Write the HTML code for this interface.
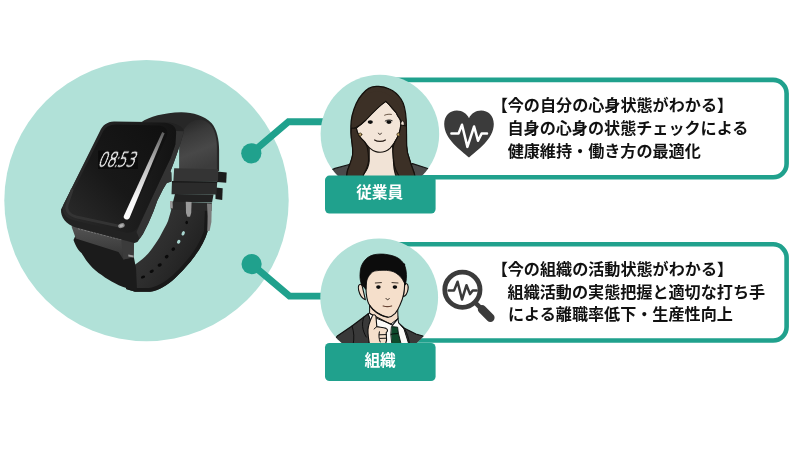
<!DOCTYPE html>
<html lang="ja">
<head>
<meta charset="utf-8">
<title>ウェアラブルデバイスでわかること</title>
<style>
  html, body { margin: 0; padding: 0; background: #ffffff; }
  body { width: 800px; height: 450px; overflow: hidden; position: relative;
         font-family: "Liberation Sans", "Noto Sans CJK JP", sans-serif; }
  #stage { position: absolute; left: 0; top: 0; width: 800px; height: 450px; }
  svg.art { position: absolute; left: 0; top: 0; }
  .txt { position: absolute; white-space: nowrap; color: #111111; font-weight: 700;
         font-size: 16.1px; line-height: 23px; height: 23px; letter-spacing: 0; }
  .lbl { position: absolute; color: #ffffff; font-weight: 700; font-size: 15.7px;
         line-height: 38px; height: 38px; text-align: center; white-space: nowrap; }
  .clock { position: absolute; color: #f2f2f2; font-family: "DejaVu Sans Light", "DejaVu Sans", "Liberation Sans", sans-serif;
           font-weight: 200; font-size: 20px; line-height: 20px; height: 20px; white-space: nowrap;
           transform-origin: 0 16.9px; transform: skewX(-21deg) scaleX(0.70); letter-spacing: -0.2px; -webkit-text-stroke: 0.55px #ffffff; will-change: transform; }
  .clock .c { display: inline-block; width: 2.4px; text-indent: -2.2px; }
</style>
</head>
<body>
<div id="stage">

<!-- ============ BACK LAYER: circle, connectors, bubbles ============ -->
<svg class="art" width="800" height="450" viewBox="0 0 800 450">
  <!-- big pale circle -->
  <ellipse cx="146.5" cy="200.6" rx="142.2" ry="140.7" fill="#b1e1d8"/>

  <!-- connectors -->
  <g fill="none" stroke="#20a18d" stroke-width="6.9" stroke-linejoin="miter">
    <polyline points="251.3,153.3 288.5,121.7 330,121.7"/>
    <polyline points="251.6,264.1 289.5,296.1 330,296.1"/>
  </g>
  <circle cx="251.3" cy="153.3" r="10.1" fill="#20a18d"/>
  <circle cx="251.6" cy="264.1" r="10.1" fill="#20a18d"/>

  <!-- speech boxes -->
  <rect x="372.3" y="79.9" width="414.3" height="97.4" rx="13.5" ry="13.5" fill="#ffffff" stroke="#20a18d" stroke-width="4.6"/>
  <rect x="372.3" y="244.3" width="414.3" height="96.2" rx="13.5" ry="13.5" fill="#ffffff" stroke="#20a18d" stroke-width="4.6"/>

  <!-- avatar discs -->
  <circle cx="379.9" cy="134.1" r="59.3" fill="#b1e1d8"/>
  <circle cx="379.2" cy="297.5" r="58.9" fill="#b1e1d8"/>
</svg>

<!-- ============ WATCH ============ -->
<svg class="art" id="watch" width="800" height="450" viewBox="0 0 800 450">
  <defs>
    <linearGradient id="gInner" x1="0.2" y1="0" x2="0.5" y2="1">
      <stop offset="0" stop-color="#262626"/>
      <stop offset="0.3" stop-color="#3a3a3a"/>
      <stop offset="0.65" stop-color="#484848"/>
      <stop offset="1" stop-color="#3c3c3c"/>
    </linearGradient>
    <linearGradient id="gStrapLow" x1="0" y1="0" x2="1" y2="0.6">
      <stop offset="0" stop-color="#3c3c3c"/>
      <stop offset="0.55" stop-color="#2d2d2d"/>
      <stop offset="1" stop-color="#1d1d1d"/>
    </linearGradient>
    <linearGradient id="gGlass" x1="1" y1="0" x2="0" y2="1">
      <stop offset="0" stop-color="#101010"/>
      <stop offset="0.55" stop-color="#181818"/>
      <stop offset="1" stop-color="#2c2c2c"/>
    </linearGradient>
    <linearGradient id="gBezel" x1="0" y1="0" x2="1" y2="0">
      <stop offset="0" stop-color="#2a2a2a"/>
      <stop offset="0.5" stop-color="#202020"/>
      <stop offset="1" stop-color="#131313"/>
    </linearGradient>
    <linearGradient id="gShine" x1="0" y1="0" x2="0" y2="1">
      <stop offset="0" stop-color="#5c5c5c"/>
      <stop offset="0.35" stop-color="#b8b8b8"/>
      <stop offset="0.75" stop-color="#f6f6f6"/>
      <stop offset="1" stop-color="#ffffff"/>
    </linearGradient>
    <linearGradient id="gLug" x1="0" y1="0" x2="0" y2="1">
      <stop offset="0" stop-color="#555555"/>
      <stop offset="1" stop-color="#333333"/>
    </linearGradient>
  </defs>

  <!-- upper strap: outer silhouette -->
  <path d="M141 122.5 C149 116.5 164 112.9 181 112.3 C193 112.2 204 115.6 211.7 123.3 C217 129.5 219.1 140 219.1 150 L219.1 171 L179.3 171 L179.3 140 L174 128 L168 124 Z" fill="#272727"/>
  <!-- inner surface of the loop -->
  <path d="M180 142 C181 131 188 120.2 199 119.8 C210 119.8 216.9 130 216.9 148 L216.9 170 L179.8 170 Z" fill="url(#gInner)"/>

  <!-- lower strap with holes (buckle end, sweeping down-left) -->
  <path d="M171.5 209 L208.5 209 L207.5 231.7 C205 240 200.5 248 196.7 253.3 C192 260 187.5 266 175 278.3 C171 282 167 285 163.3 286.7 C159 289.5 154 291.3 150 291.7 L135 291.7 L126 289 L131 267 C137 263.5 141.5 260 145 256.7 C149 253 151.5 249.5 153.3 246.7 C156.5 242 159 238.5 160.8 235 C163.5 230 166 225.5 168 221 Z" fill="url(#gStrapLow)"/>
  <!-- darker outer rim of lower strap -->
  <path d="M208.5 209 L207.5 231.7 C205 240 200.5 248 196.7 253.3 C192 260 187.5 266 175 278.3 C167 285.5 158 291 150 291.7 L135 291.7 L126 289 L127 285.5 L136 288 L149 288 C157 287 165 282 172.5 275.5 C184 264.5 189 258 193.5 251.5 C197.5 246 201.5 238.5 204 231 L205 209 Z" fill="#191919"/>
  <!-- holes -->
  <g fill="#0a0a0a">
    <ellipse cx="188.3" cy="214.2" rx="1.3" ry="1.7"/>
    <ellipse cx="186.7" cy="222.5" rx="1.3" ry="1.7"/>
    <ellipse cx="173.3" cy="249.2" rx="1.9" ry="1.7" transform="rotate(-35 173.3 249.2)"/>
    <ellipse cx="166.7" cy="256.7" rx="2" ry="1.7" transform="rotate(-35 166.7 256.7)"/>
    <ellipse cx="159.7" cy="265" rx="2.2" ry="1.6" transform="rotate(-30 159.7 265)"/>
    <ellipse cx="151.7" cy="271.3" rx="2.2" ry="1.5" transform="rotate(-25 151.7 271.3)"/>
    <ellipse cx="143" cy="277" rx="2.2" ry="1.4" transform="rotate(-20 143 277)"/>
  </g>
  <g fill="#a9d6d0">
    <ellipse cx="183.2" cy="233.3" rx="1.5" ry="2.3" transform="rotate(25 183.2 233.3)"/>
    <ellipse cx="178.7" cy="241.7" rx="1.6" ry="2.1" transform="rotate(30 178.7 241.7)"/>
  </g>

  <!-- keepers -->
  <path d="M217 171.5 L226.7 172.5 L226.2 182.8 L217 182 Z" fill="#1c1c1c"/>
  <path d="M215.5 187.5 L222.7 188.3 L222.2 200 L215.5 199 Z" fill="#1c1c1c"/>
  <path d="M174.2 168.3 L218.3 169.2 L218 181.3 L173.4 181 Z" fill="#343434"/>
  <path d="M172 181 L217.2 181.5 L216.5 194.6 L171.5 194.2 Z" fill="#2b2b2b"/>
  <path d="M172 181 L217.2 181.5 L217.2 183 L172 182.4 Z" fill="#1a1a1a"/>
  <!-- strap neck between keeper and buckle -->
  <path d="M175 194 L213.5 194.4 L212 202.5 L173 202 Z" fill="#222222"/>
  <!-- buckle -->
  <path d="M170.6 201.4 L211.8 203 L211.5 211 L170.8 209.6 Z" fill="#2a2a2a"/>
  <path d="M170 201 L172.6 201.2 L172.8 208.4 L170.2 208.2 Z" fill="#9a9a9a"/>
  <path d="M185.8 201.8 L191.6 202 L191.2 213 L190 216.8 L187.4 216.8 L186 213 Z" fill="#9a9a9a"/>
  <path d="M207 203.4 L211.8 203.8 L211.4 222 L209.6 231 L207.4 231 L207.6 216 Z" fill="#7c7c7c"/>

  <!-- lower-left strap chunk (case end) -->
  <path d="M73.5 240 C76 247 79 251 81.7 253.3 C84.5 258 87 261.5 90 265 C93.5 269 97.5 272.5 101.7 275 C106 278.5 110.5 281 115 283.3 C120 286 125 288 130 289.2 L137 290.5 L136 268 L133.6 256 L121 246 L77 232 Z" fill="#1b1b1b"/>
  <!-- lug / hinge -->
  <path d="M71.5 226.5 L76 224.5 L122 236.5 L134.2 240 L133.6 257.2 L123.4 259.4 L118.5 252 L75.8 238.6 Z" fill="url(#gLug)"/>
  <path d="M121 238 L134 240.5 L133.6 257.2 L123.4 259.4 Z" fill="#3b3b3b"/>
  <path d="M78 228.6 L121.5 239.6" stroke="#7a7a7a" stroke-width="1.3" stroke-dasharray="2.2 1.1" fill="none"/>
  <path d="M128.3 254.5 L133.6 255.5 L133.6 257.4 L128.3 256.6 Z" fill="#9c9c9c"/>

  <!-- case: body / side -->
  <path d="M114 121.6 L166 122.2 C175 122.6 183 126 184 131.3 L180 144.7 L177.3 152.7 L174 162 L170.4 171.5 L171.3 172.5 L171.5 181.5 L166.8 183 L163 189.2 L157.4 200.4 L153.4 211.6 L148.6 222.8 L143 234 L137.4 242 L134.5 243 L76 227.5 C66 224.5 60.5 217 61 209.5 L100 131 C102.5 125.5 107 121.9 114 121.6 Z" fill="#222222"/>
  <!-- lighter side band on the right -->
  <path d="M176 131 L184 131.3 L180 144.7 L177.3 152.7 L174 162 L170.4 171.5 L171.3 172.5 L171.5 181.5 L166.8 183 L163 189.2 L157.4 200.4 L153.4 211.6 L148.6 222.8 L143 234 L139.5 239 L136.5 232 L140 224 L164 172 L170.7 158 L175.3 144.7 Z" fill="#333333"/>
  <!-- case front bezel -->
  <path d="M114.5 122 L164 122.7 C171.5 123 176.6 126.5 176.2 133 L175.3 144.7 L170.7 158 L164 172 L139.6 224 C136.6 230.6 132 233.8 125 232.4 L74 220.2 C65.5 218.2 61 212.5 63.5 204.5 L100.5 131.5 C103.5 125.6 108 122 114.5 122 Z" fill="url(#gBezel)"/>
  <!-- glass -->
  <path d="M115.5 124.6 L158.5 125.4 C165.5 125.8 169 130 167 136 L131.5 215.5 C129 222 125.5 227.5 119 227 L76 217.6 C68.5 215.8 64.5 211 66.5 204.5 L102.5 132.5 C105 127.6 109.5 124.6 115.5 124.6 Z" fill="url(#gGlass)"/>
  <path d="M72 190 L67.2 204.6 C65.4 210.6 69 215 76.2 216.8 L119 226.2" fill="none" stroke="#353535" stroke-width="2.8" stroke-linecap="round" stroke-linejoin="round" opacity="0.9"/>
  <rect x="98.2" y="150.6" width="39.8" height="18.4" fill="#0b0b0b"/>
  <!-- shine on right edge -->
  <path d="M162.2 132 L164.6 133.2 L129.6 217.8 C128.2 221 122.8 219.4 123.8 216 Z" fill="url(#gShine)"/>
  <ellipse cx="121.4" cy="225.6" rx="3.4" ry="2.3" fill="#8c8c8c" transform="rotate(-20 121.4 225.6)"/>
  <ellipse cx="121.4" cy="225.6" rx="2" ry="1.3" fill="#b4b4b4" transform="rotate(-20 121.4 225.6)"/>
</svg>

<div class="clock" style="left:96.6px; top:149.7px;">08<span class="c">:</span>53</div>

<!-- ============ AVATARS ============ -->
<svg class="art" id="people" width="800" height="450" viewBox="0 0 800 450">
  <defs>
    <clipPath id="clipA1"><circle cx="379.9" cy="134.1" r="59.3"/></clipPath>
    <clipPath id="clipA2"><circle cx="379.2" cy="297.5" r="58.9"/></clipPath>
  </defs>
  <!-- ===== woman ===== -->
  <g clip-path="url(#clipA1)" stroke-linejoin="round" stroke-linecap="round">
    <!-- jacket -->
    <path d="M318 176 L335 168.4 L351 164 L366 171 L372 181 L318 181 Z" fill="#4a4a4a" stroke="#151515" stroke-width="1.2"/>
    <path d="M442 176 L427 168.2 L412.5 163.6 L397 171 L390 181 L442 181 Z" fill="#4a4a4a" stroke="#151515" stroke-width="1.2"/>
    <!-- hair back mass -->
    <path d="M377.4 86.4 C370 86 365 90.5 362 94.5 C357.5 99.5 354 108 352 116 C350.6 123 350.6 131 351.4 138 C352.4 145 353.2 150 352.6 155 C351.6 161 349 166 347.4 171 L346 180 L415.4 180 L414.4 174 C413 169 411 165 410 161 C408 156 406.8 151 406.6 146 C406.4 140 406.6 128 406.2 120 C405.8 112 404.4 104 401 99 C398 94.5 394 91 389.4 89 C385 86.8 381 86.2 377.4 86.4 Z" fill="#3c3026" stroke="#14100c" stroke-width="1.3"/>
    <!-- neck + chest -->
    <path d="M369.2 146 L369.2 161 C369 166 367 170 363.6 174.5 L362 181 L398 181 L395.4 174.5 C394 170 393.6 166 393.4 161 L392.6 146 Z" fill="#f1e3d6" stroke="#14100c" stroke-width="1.1"/>
    <!-- ears -->
    <path d="M357 126.5 C355 125.5 354.4 128 355.2 130.5 C356 133 357.6 134 358.6 133 Z" fill="#f1e3d6" stroke="#14100c" stroke-width="1"/>
    <path d="M401 121 C403.6 119.6 404.8 122.5 404 126 C403.4 129 402 131.5 400.4 131.5 Z" fill="#f1e3d6" stroke="#14100c" stroke-width="1"/>
    <!-- face -->
    <path d="M385.8 101.4 C380 105 372 113 366 119.5 C362.5 123 359 126 356.4 128.2 C356.8 133 359.5 137 364.4 141.6 C366.5 144.5 368.5 147 369.8 148.2 C372 150.2 374 151.2 375.8 151.6 C378.5 152.4 382.5 152.3 385.4 151.3 C387.5 150.6 389 149.4 390.2 148.2 C392.2 146 393.8 143.8 395 141.6 C398 137 400.4 131 400.8 124 C400.6 120 399.6 118 397.8 116 C396.6 113 395 111 393 109.2 C391 106.5 388.5 103.6 385.8 101.4 Z" fill="#f3e5d8" stroke="#14100c" stroke-width="1.1"/>
    <!-- hair front strands (cover face edge) -->
    <path d="M385.8 101.4 C380 105.5 372 113.5 366 120 C362.5 123.5 358.5 126.5 355.2 128 C354 124 354.6 118 356.5 112 C359 104 364 97 371 92.5 C378 89.5 386 92 392 97 C397 101.5 401 108 402.6 116 C403 118.5 402.6 121 401.8 122 C400.6 119.5 399.6 118 397.8 116 C396.6 113 395 111 393 109.2 C391 106.5 388.5 103.6 385.8 101.4 Z" fill="#3c3026"/>
    <path d="M385.8 101.4 C380 105.5 372 113.5 366 120 C362.5 123.5 358.5 126.5 355.2 128" fill="none" stroke="#14100c" stroke-width="1.1"/>
    <path d="M385.8 101.4 C388.5 103.6 391 106.5 393 109.2 C395 111 396.6 113 397.8 116 C399.6 118 400.6 119.5 401.4 122" fill="none" stroke="#14100c" stroke-width="1.1"/>
    <!-- side hair strands falling over shoulders -->
    <path d="M356.4 128.2 C357 133 359.5 137.5 364.4 141.6 C366.5 144.5 367.4 146.5 367.6 149 C368.4 154 368.8 158 368.4 162 C367.6 167 365.8 170.5 363.6 174.5 L361.6 181 L346 181 L347.4 171 C349 166 351.6 161 352.6 155 C353.2 150 352.4 145 351.4 138 C351 134 351 131 351.4 128 Z" fill="#3c3026" stroke="#14100c" stroke-width="1.1"/>
    <path d="M400.8 125 C400.4 131 398 137 395 141.6 C393.6 144.5 392.8 147.5 392.8 151 C393 156 393.6 161 394.4 165.6 C395.4 169.5 396.8 172.5 398.6 175.2 L401 181 L415.6 181 L414.4 174 C413 169 411 165 410 161 C408 156 406.8 151 406.6 146 C406.4 140 406.6 132 406.4 126 Z" fill="#3c3026" stroke="#14100c" stroke-width="1.1"/>
    <!-- eyes -->
    <ellipse cx="370.3" cy="122.1" rx="2.6" ry="1.8" fill="#0d0d0d"/>
    <ellipse cx="388.9" cy="122.1" rx="2.6" ry="1.8" fill="#0d0d0d"/>
    <path d="M385.2 121 C386.6 119.8 390.4 119.6 392.2 120.6" fill="none" stroke="#0d0d0d" stroke-width="0.9"/>
    <!-- brows -->
    <path d="M384.6 115.2 C386.8 114.2 389.4 114 391.4 114.4" fill="none" stroke="#5a4636" stroke-width="0.9"/>
    <!-- nose -->
    <path d="M378.4 133.2 C378.8 134.8 381 134.9 381.4 133.2" fill="none" stroke="#2a1f18" stroke-width="0.9"/>
    <!-- mouth -->
    <path d="M374.6 140 C377.5 141.9 382.5 141.9 385.4 140" fill="none" stroke="#2a1f18" stroke-width="1.2"/>
    <!-- earrings -->
    <circle cx="360.3" cy="134.5" r="1.5" fill="#cdb074" stroke="#3a2c14" stroke-width="0.8"/>
    <circle cx="398.4" cy="134.5" r="1.5" fill="#cdb074" stroke="#3a2c14" stroke-width="0.8"/>
  </g>
  <!-- ===== man ===== -->
  <g clip-path="url(#clipA2)" stroke-linejoin="round" stroke-linecap="round">
    <!-- jacket -->
    <path d="M330 346 L337.3 336 L352 326 L363.9 317 L368.5 313.6 L371 321 L369 346 Z" fill="#393939" stroke="#101010" stroke-width="1.2"/>
    <path d="M430 346 L422.9 336 L415.9 334 L404.4 328.2 L398 322.4 L396.5 327 L401 346 Z" fill="#393939" stroke="#101010" stroke-width="1.2"/>
    <!-- jacket creases -->
    <path d="M352 326 C354 332 354.5 338 353 345" fill="none" stroke="#101010" stroke-width="1"/>
    <path d="M363.9 317 C361.5 323 362 330 366.2 337" fill="none" stroke="#101010" stroke-width="1"/>
    <path d="M404.4 328.2 C407 333 409 338 409.6 345" fill="none" stroke="#101010" stroke-width="1"/>
    <!-- shirt -->
    <path d="M368.5 313.4 L373.5 311 L397.6 316 L398.6 323 L404 329 L409.4 346 L370 346 L372 325 Z" fill="#fbfaf8" stroke="#101010" stroke-width="1"/>
    <!-- neck -->
    <path d="M369.6 303 L369.6 313 L377 318.5 L391 324 L398 318.5 L397.6 306 Z" fill="#f3dcc8" stroke="#101010" stroke-width="1"/>
    <!-- collar line -->
    <path d="M369.8 313.6 L392.6 325.2" fill="none" stroke="#101010" stroke-width="1.1"/>
    <path d="M398 318.6 L392.6 325.2" fill="none" stroke="#101010" stroke-width="1.1"/>
    <!-- tie -->
    <path d="M391.8 326.6 L397.6 327.2 L398.4 333.4 L391.2 334.4 Z" fill="#0f4a2c" stroke="#08150e" stroke-width="0.9"/>
    <path d="M391.2 334.4 L398.4 333.4 L401.6 346 L392.4 346 Z" fill="#0f4a2c" stroke="#08150e" stroke-width="0.9"/>
    <!-- ears -->
    <path d="M361.8 284.4 C358.6 283.4 357.8 286.6 358.6 290.2 C359.6 294.6 362.2 298.6 365.4 299.8 Z" fill="#f3dcc8" stroke="#101010" stroke-width="1.1"/>
    <path d="M404.8 283.8 C407.6 282.6 408.6 285.6 408 289.4 C407.4 293 405.6 296 403.4 296.6 Z" fill="#f3dcc8" stroke="#101010" stroke-width="1.1"/>
    <!-- face -->
    <path d="M366 264 L366 289 C366.2 295 367 300 368.6 303.4 C370 306 371.6 308 373.2 309.4 C375.2 311.6 377.6 313.4 380.2 314.8 C382.6 316.2 385.4 317.2 388.2 317.2 C390.8 317 393.2 315.4 395.2 313.4 C397 311.2 398.6 308.4 399.8 305.4 C401.6 301.6 403 297.6 403.6 294 C404.2 291 404.6 288 404.6 285 L404.6 264 Z" fill="#f5dfcb" stroke="#101010" stroke-width="1.1"/>
    <!-- jaw shadow line toward neck -->
    <path d="M369.8 305.6 C373 310.8 379 315 388 317.2" fill="none" stroke="#101010" stroke-width="1.1"/>
    <!-- hair -->
    <path d="M361.6 285 C360.2 281 359.8 277.5 360 274.3 C360.2 271 360.6 268.4 361.3 266.3 C362.5 263 364.5 260.4 366.7 258.3 C369 256.4 371.8 255.2 374.7 254.6 C378 254 382 253.9 385.3 254.3 C389.2 254.8 393 255.7 396 257 C398.8 258.3 401 260 402.7 262.3 C404.4 264.6 405.5 267.4 406 270.3 C406.5 273 406.6 276 406.4 278.3 C406.2 281 405.8 283 405.2 285 C405 284 404.6 283 404 282.3 C403 280 401.6 278 400 276.3 C398 274.3 395.6 272.6 393.3 271.7 C390.5 270.7 387.2 270.3 384 270.3 C380.8 270.3 377.6 270.4 374.7 271 C373 271.6 371.6 272.5 370.7 273.7 C368.6 276 367.3 278.6 366.7 281 C366.2 284 366 286.6 366 289.4 C364.6 288 363 286.4 361.6 285 Z" fill="#0c0c0c" stroke="#0c0c0c" stroke-width="0.8"/>
    <!-- eyes -->
    <ellipse cx="378.4" cy="287.1" rx="2.3" ry="1.8" fill="#0d0d0d"/>
    <ellipse cx="394.9" cy="287.1" rx="2.3" ry="1.8" fill="#0d0d0d"/>
    <path d="M375.3 283 L381.4 282.6" fill="none" stroke="#2a2018" stroke-width="0.9"/>
    <path d="M392 282.6 L398 283" fill="none" stroke="#2a2018" stroke-width="0.9"/>
    <!-- nose -->
    <path d="M386 298.4 C386.5 300.2 388.8 300.2 389.3 298.4" fill="none" stroke="#2a1f18" stroke-width="0.9"/>
    <!-- mouth -->
    <path d="M383.2 306 C385.5 306.7 389.2 306.7 391.6 306" fill="none" stroke="#6a4636" stroke-width="1.3"/>
    <!-- hand -->
    <path d="M372.2 316.2 C373 314.2 375.4 314.4 376 316.6 L376.8 326.6 C379.5 327.2 383 327.6 386 328.4 C388 329.2 388 331.4 386.2 332.6 L386.6 340 L385 346 L369.8 346 C368.6 340 367.8 334 368 329.6 C368.4 324.5 370.4 320 372.2 316.2 Z" fill="#f5dfcb" stroke="#101010" stroke-width="1.1"/>
    <path d="M376.8 326.6 C375.6 327.4 374.8 328 374.2 329" fill="none" stroke="#101010" stroke-width="1"/>
    <path d="M379.2 334.8 L386.2 334.6" fill="none" stroke="#101010" stroke-width="1"/>
    <path d="M380 338.4 L386.4 338.2" fill="none" stroke="#101010" stroke-width="1"/>
    <path d="M379.4 331.8 C378.6 335 378.8 339 380.2 342" fill="none" stroke="#101010" stroke-width="1"/>
  </g>
</svg>

<!-- ============ LABELS + ICONS ============ -->
<svg class="art" width="800" height="450" viewBox="0 0 800 450">
  <rect x="325" y="175.6" width="110.6" height="38" rx="4.5" ry="4.5" fill="#20a18d"/>
  <rect x="325" y="343" width="110.6" height="38" rx="4.5" ry="4.5" fill="#20a18d"/>

  <!-- heart with pulse -->
  <path d="M469 157.6 C461.5 150.5 444.2 139.5 444.2 124 C444.2 115.5 450 110.5 456.8 110.5 C462.5 110.5 467 113.8 469 118.2 C471 113.8 475.5 110.5 481.2 110.5 C488 110.5 493.8 115.5 493.8 124 C493.8 139.5 476.5 150.5 469 157.6 Z" fill="#3b3b3b"/>
  <polyline points="451.4,133.6 458.5,133.6 462,124.7 467.4,146.9 474.1,126.5 478,140.7 481.6,133.6 487,133.6" fill="none" stroke="#ffffff" stroke-width="2.5" stroke-linejoin="round" stroke-linecap="round"/>

  <!-- magnifier with pulse -->
  <circle cx="462.4" cy="289.7" r="17.6" fill="none" stroke="#3b3b3b" stroke-width="4.8"/>
  <line x1="475" y1="302.4" x2="482.5" y2="309.9" stroke="#3b3b3b" stroke-width="4.6"/>
  <line x1="482" y1="309.3" x2="490.4" y2="317.7" stroke="#3b3b3b" stroke-width="8.4" stroke-linecap="round"/>
  <polyline points="448.7,290.6 454,290.6 457.6,281.7 462,299.5 466.5,285.2 470,294.1 472.7,290.6 476.6,290.6" fill="none" stroke="#3b3b3b" stroke-width="2.5" stroke-linejoin="round" stroke-linecap="round"/>
</svg>

<!-- ============ TEXT ============ -->
<div class="lbl" style="left:324.4px; top:174px; width:110.6px;">従業員</div>
<div class="lbl" style="left:324.8px; top:342px; width:110.6px;">組織</div>

<div class="txt" style="left:491.7px; top:94.3px;">【今の自分の心身状態がわかる】</div>
<div class="txt" style="left:507.5px; top:116.8px;">自身の心身の状態チェックによる</div>
<div class="txt" style="left:507.7px; top:139.6px;">健康維持・働き方の最適化</div>

<div class="txt" style="left:491.7px; top:257.8px;">【今の組織の活動状態がわかる】</div>
<div class="txt" style="left:507.6px; top:280.6px;">組織活動の実態把握と適切な打ち手</div>
<div class="txt" style="left:508px; top:303.3px;">による離職率低下・生産性向上</div>

</div>
</body>
</html>
